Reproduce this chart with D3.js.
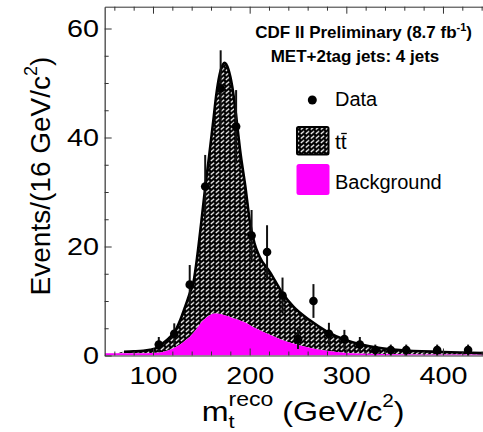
<!DOCTYPE html>
<html>
<head>
<meta charset="utf-8" />
<script src="https://cdn.jsdelivr.net/npm/d3@7"></script>
<style>
  body { margin: 0; background: #fff; }
  text { font-family: "Liberation Sans", Arial, Helvetica, sans-serif; fill: #000; }
  .axis path, .axis line { stroke: #333; }
</style>
</head>
<body>
<script>
// data
var binCenters = [106, 122, 138, 154, 170, 186, 202, 218, 234, 250, 266, 282, 298, 314, 330, 346, 362, 394, 426];
var counts     = [2, 4, 13, 31, 49, 42, 22, 19, 11, 3, 10, 4, 3, 2, 1, 1, 1, 1, 1];
var errors     = [1.4, 1.9, 3.6, 5.8, 7, 6.7, 4.7, 4.9, 3.3, 1.8, 3.1, 2, 1.7, 1.4, 1, 1, 1, 1, 1];

var curveMass = [50, 60, 70, 80, 90, 97, 104, 110, 116, 123, 128, 133, 138, 142, 146, 150, 154, 158, 162, 166,
                 170, 174, 178, 182, 186, 190, 196, 200, 205, 210, 221, 233, 245, 262, 280, 300, 324, 355, 400, 450];
var totalPred = [0.4, 0.4, 0.7, 0.75, 0.85, 1.05, 1.4, 2.2, 3.1, 4.5, 6.4, 8.8, 11.4, 13.6, 18.5, 24.5, 30.8, 36.5, 42.5, 48.5,
                 52.3, 53.7, 52.5, 49.3, 44, 37.8, 30.4, 24.8, 20.6, 18.2, 15.3, 11.7, 9.0, 6.5, 4.4, 2.8, 1.7, 1.0, 0.64, 0.4];
var bkgPred   = [0.4, 0.4, 0.4, 0.4, 0.4, 0.45, 0.5, 0.65, 0.95, 1.5, 2.0, 2.7, 3.4, 4.2, 5.1, 6.1, 6.8, 7.3, 7.65, 7.7,
                 7.6, 7.4, 7.2, 6.9, 6.7, 6.4, 6.0, 5.6, 5.1, 4.7, 3.8, 2.9, 2.2, 1.4, 0.85, 0.45, 0.3, 0.25, 0.2, 0.2];

var xMajor = [100, 200, 300, 400];
var xMinor = [60, 80, 120, 140, 160, 180, 220, 240, 260, 280, 320, 340, 360, 380, 420, 440];
var yMajor = [0, 20, 40, 60];
var yMinor = [5, 10, 15, 25, 30, 35, 45, 50, 55];

var width = 483, height = 432;
var x = d3.scaleLinear().domain([50, 450]).range([104.67, 491.3]);
var y = d3.scaleLinear().domain([0, 64]).range([355.5, 6.7]);

var svg = d3.select("body").append("svg")
  .attr("width", width).attr("height", height);

var defs = svg.append("defs");
var pat = defs.append("pattern")
  .attr("id", "hatch")
  .attr("patternUnits", "userSpaceOnUse")
  .attr("width", 5).attr("height", 4.5);
pat.append("rect").attr("width", 5).attr("height", 4.5).attr("fill", "#000");
pat.append("path").attr("d", "M0.8,3.5 L4.2,0.7")
  .attr("stroke", "#fff").attr("stroke-width", 1.25);

defs.append("clipPath").attr("id", "plotclip")
  .append("rect").attr("x", x(50)).attr("y", y(64))
  .attr("width", width - x(50)).attr("height", y(0) - y(64));

var pts = curveMass.map(function(m, i) { return { m: m, tot: totalPred[i], bkg: bkgPred[i] }; });

var plot = svg.append("g").attr("clip-path", "url(#plotclip)");

// ttbar stacked on top of background
plot.append("path").datum(pts)
  .attr("fill", "url(#hatch)")
  .attr("d", d3.area().curve(d3.curveMonotoneX)
    .x(function(d) { return x(d.m); })
    .y0(function(d) { return y(d.bkg); })
    .y1(function(d) { return y(d.tot); }));

plot.append("path").datum(pts)
  .attr("fill", "#ff00ff")
  .attr("d", d3.area().curve(d3.curveMonotoneX)
    .x(function(d) { return x(d.m); })
    .y0(y(0))
    .y1(function(d) { return y(d.bkg); }));

plot.append("path").datum(pts.filter(function(d) { return d.m >= 70; }))
  .attr("fill", "none").attr("stroke", "#000").attr("stroke-width", 2.6)
  .attr("d", d3.line().curve(d3.curveMonotoneX)
    .x(function(d) { return x(d.m); })
    .y(function(d) { return y(d.tot); }));

// axes, ticks inside
function noLabels(g) { g.selectAll("text").remove(); }

var gx = svg.append("g").attr("class", "axis").attr("transform", "translate(0," + y(0) + ")")
  .call(d3.axisBottom(x).tickValues(xMajor).tickSizeInner(-7).tickSizeOuter(0).tickPadding(12.2));
gx.selectAll("text").attr("font-size", 23).attr("transform", "scale(1.25,1)");
gx.select(".domain").attr("stroke-width", 1.2);
svg.append("g").attr("class", "axis").attr("transform", "translate(0," + y(0) + ")")
  .call(d3.axisBottom(x).tickValues(xMinor).tickSizeInner(-4).tickSizeOuter(0)).call(noLabels)
  .select(".domain").remove();

var gt = svg.append("g").attr("class", "axis").attr("transform", "translate(0," + y(64) + ")")
  .call(d3.axisTop(x).tickValues(xMajor).tickSizeInner(-7).tickSizeOuter(0)).call(noLabels);
gt.select(".domain").attr("stroke", "#888");
svg.append("g").attr("class", "axis").attr("transform", "translate(0," + y(64) + ")")
  .call(d3.axisTop(x).tickValues(xMinor).tickSizeInner(-4).tickSizeOuter(0)).call(noLabels)
  .select(".domain").remove();

var gy = svg.append("g").attr("class", "axis").attr("transform", "translate(" + x(50) + ",0)")
  .call(d3.axisLeft(y).tickValues(yMajor).tickSizeInner(-7).tickSizeOuter(0).tickPadding(4.5));
gy.selectAll("text").attr("font-size", 23).attr("dy", "0.36em").attr("transform", "scale(1.25,1)");
gy.select(".domain").attr("stroke-width", 1.2);
svg.append("g").attr("class", "axis").attr("transform", "translate(" + x(50) + ",0)")
  .call(d3.axisLeft(y).tickValues(yMinor).tickSizeInner(-4).tickSizeOuter(0)).call(noLabels)
  .select(".domain").remove();

// data points
var data = binCenters.map(function(m, i) { return { m: m, n: counts[i], e: errors[i] }; });
var pg = svg.append("g");
pg.selectAll("line.err").data(data).enter().append("line")
  .attr("x1", function(d) { return x(d.m); }).attr("x2", function(d) { return x(d.m); })
  .attr("y1", function(d) { return y(d.n - d.e); }).attr("y2", function(d) { return y(d.n + d.e); })
  .attr("stroke", "#111").attr("stroke-width", 2);
pg.selectAll("circle").data(data).enter().append("circle")
  .attr("cx", function(d) { return x(d.m); }).attr("cy", function(d) { return y(d.n); })
  .attr("r", 4.3).attr("fill", "#000");

// header text
var t1 = svg.append("text").attr("x", 472).attr("y", 38.3).attr("text-anchor", "end")
  .attr("font-size", 17).attr("font-weight", "bold");
t1.append("tspan").text("CDF II Preliminary (8.7 fb");
t1.append("tspan").attr("font-size", 11).attr("dy", -7).text("-1");
t1.append("tspan").attr("dy", 7).text(")");
svg.append("text").attr("x", 355).attr("y", 62.3).attr("text-anchor", "middle")
  .attr("font-size", 17).attr("font-weight", "bold").text("MET+2tag jets: 4 jets");

// legend
svg.append("circle").attr("cx", 312.3).attr("cy", 100).attr("r", 4.5).attr("fill", "#000");
svg.append("text").attr("x", 335).attr("y", 106).attr("font-size", 20).text("Data");

svg.append("rect").attr("x", 297).attr("y", 127).attr("width", 31.5).attr("height", 27.5).attr("rx", 1.5)
  .attr("fill", "url(#hatch)").attr("stroke", "#000").attr("stroke-width", 2);
svg.append("text").attr("x", 335).attr("y", 149).attr("font-size", 21).text("tt");
svg.append("line").attr("x1", 341.2).attr("x2", 346.8).attr("y1", 133.5).attr("y2", 133.5)
  .attr("stroke", "#000").attr("stroke-width", 1.3);

svg.append("rect").attr("x", 296.5).attr("y", 164).attr("width", 33).attr("height", 31).attr("rx", 2.5)
  .attr("fill", "#ff00ff");
svg.append("text").attr("x", 335).attr("y", 188.5).attr("font-size", 20).text("Background");

// axis titles
var xt = svg.append("text").attr("transform", "translate(201.7,421) scale(1.15,1)").attr("font-size", 28);
xt.append("tspan").text("m");
xt.append("tspan").attr("font-size", 19).attr("dy", 7).text("t");
xt.append("tspan").attr("font-size", 20).attr("dx", -5.3).attr("dy", -22.5).text("reco");
xt.append("tspan").attr("dy", 15.5).text(" (GeV/c");
xt.append("tspan").attr("font-size", 18).attr("dy", -13.7).text("2");
xt.append("tspan").attr("dy", 13.7).text(")");

var yt = svg.append("text").attr("transform", "translate(50,176) rotate(-90)")
  .attr("text-anchor", "middle").attr("font-size", 28);
yt.append("tspan").text("Events/(16 GeV/c");
yt.append("tspan").attr("font-size", 18).attr("dy", -13).text("2");
yt.append("tspan").attr("dy", 13).text(")");
</script>
</body>
</html>
